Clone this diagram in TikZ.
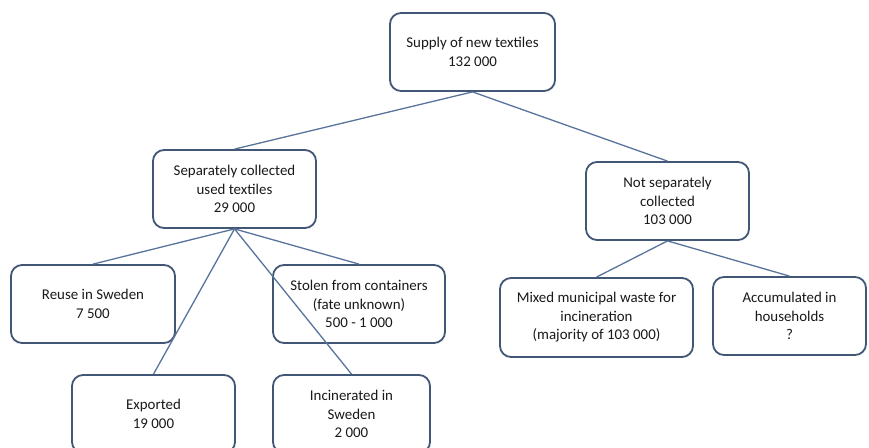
\documentclass[tikz,border=0pt]{standalone}
\usepackage{fontspec}
\setmainfont{Carlito}
\definecolor{boxborder}{RGB}{66,86,118}
\definecolor{linkcol}{RGB}{88,116,156}
\definecolor{txt}{RGB}{25,25,25}
\begin{document}
\begin{tikzpicture}[x=1pt,y=-1pt,
  box/.style={draw=boxborder, line width=1.8pt, rounded corners=11pt, fill=white,
    align=center, text=txt, inner sep=0pt,
    font=\fontsize{14.9}{18.5}\selectfont},
  link/.style={draw=linkcol, line width=1.3pt}]
\clip (0,0) rectangle (869,447);
\fill[white] (0,0) rectangle (869,447);
\node[box, minimum width=165pt, minimum height=78pt] (top) at (472.5,52) {Supply of new textiles\\132 000};
\node[box, minimum width=163pt, minimum height=78pt] (sep) at (234.5,189) {Separately collected\\used textiles\\29 000};
\node[box, minimum width=163pt, minimum height=78pt] (notsep) at (667.5,201) {Not separately\\collected\\103 000};
\node[box, minimum width=164pt, minimum height=78pt] (reuse) at (93,304) {Reuse in Sweden\\7 500};
\node[box, minimum width=172pt, minimum height=78pt] (stolen) at (359,304) {Stolen from containers\\(fate unknown)\\500 - 1 000};
\node[box, minimum width=163pt, minimum height=78pt] (exported) at (153.5,414) {Exported\\19 000};
\node[box, minimum width=157pt, minimum height=78pt] (incin) at (351.5,414) {Incinerated in\\Sweden\\2 000};
\node[box, minimum width=193pt, minimum height=79pt] (mixed) at (596.5,317.5) {Mixed municipal waste for\\incineration\\(majority of 103 000)};
\node[box, minimum width=153pt, minimum height=78pt] (accum) at (789.5,316) {Accumulated in\\households\\?};
\draw[link] (top.south) -- (sep.north);
\draw[link] (top.south) -- (notsep.north);
\draw[link] (sep.south) -- (reuse.north);
\draw[link] (sep.south) -- (stolen.north);
\draw[link] (sep.south) -- (exported.north);
\draw[link] (sep.south) -- (incin.north);
\draw[link] (notsep.south) -- (mixed.north);
\draw[link] (notsep.south) -- (accum.north);
\end{tikzpicture}
\end{document}
